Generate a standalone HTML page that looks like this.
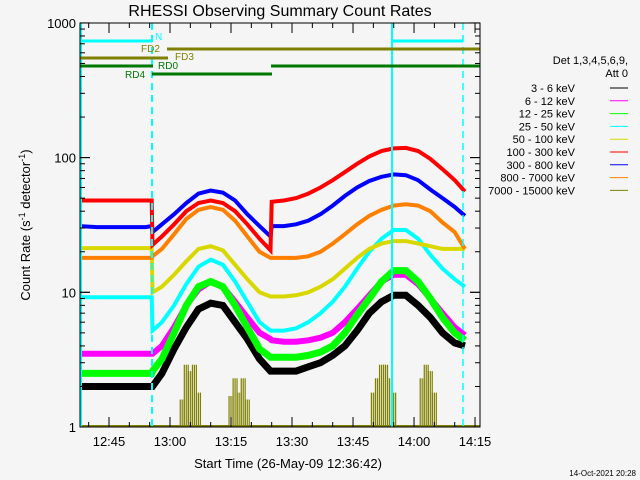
<!DOCTYPE html>
<html><head><meta charset="utf-8"><style>
body{margin:0;background:#f5f5f5;}
svg{display:block;font-family:"Liberation Sans",sans-serif;}
</style></head><body>
<svg id="c" width="640" height="480" viewBox="0 0 640 480">
<rect width="640" height="480" fill="#f5f5f5"/>
<text x="280" y="16" text-anchor="middle" font-size="16" fill="#000">RHESSI Observing Summary Count Rates</text>
<g id="plot"></g>
<text x="30" y="225" transform="rotate(-90 30 225)" text-anchor="middle" font-size="13">Count Rate (s<tspan dy="-5" font-size="9">-1</tspan><tspan dy="5"> detector</tspan><tspan dy="-5" font-size="9">-1</tspan><tspan dy="5">)</tspan></text>
<text x="288" y="468" text-anchor="middle" font-size="13">Start Time (26-May-09 12:36:42)</text>
<text x="636" y="476" text-anchor="end" font-size="8">14-Oct-2021 20:28</text>
<g id="legend"></g>
</svg>
<script>
const times=[-7.5,-3,1,5,9,10.5,10.7,13,16,19,22,25,28,31,34,37,39.7,40,43,46,49,52,55,58,61,64,67,70,73,76,79,82,85,87.5];
const red=[48,48,48,48,48,48,22.5,26,32,40,46,48,46,40,32,25,20.5,47,48,50,54,60,68,78,90,102,112,117,118,112,98,82,68,56];
const blue=[31,30.5,30.5,30.5,30.5,31,28,32,38,46,54,57,55,48,38,31,26,31,31,32,34,38,44,52,60,67,72,75,74,68,58,50,43,37];
const orange=[18,18,18,18,18,18,18.5,21,27,35,41,43,41,34,26,20,18,18,18,18,18.5,20,23,27,32,37,41,44,45,44,40,33,28,21];
const yellow=[21.3,21.3,21.3,21.3,21.3,21.3,10,11,13.5,17,21,22,20.5,16,12.5,10,9.3,9.3,9.3,9.5,10,11,12.5,15,18,21,23,24,24,23,22,21,21,21];
const cyan=[9.2,9.2,9.2,9.2,9.2,9.2,5.2,6,8,11.5,15.5,17.5,16,12,8.5,6,5.2,5.2,5.2,5.4,6,7,8.5,11,15,20,25,29,29,25,19,15,12.5,11];
const magenta=[3.5,3.5,3.5,3.5,3.5,3.5,3.5,4,5.5,8,10.5,12,11,8.5,6.5,5,4.5,4.4,4.3,4.3,4.4,4.6,5,6,7.5,9.5,12,13.5,13.5,11.5,9,7,5.5,4.8];
const green=[2.5,2.5,2.5,2.5,2.5,2.5,2.6,3.2,5,8,11,12,11,8,5.5,3.8,3.3,3.3,3.3,3.3,3.4,3.6,4,5,6.8,9,12,14.5,14.5,12,9,6.5,5,4.4];
const black=[2,2,2,2,2,2,2,2.5,3.8,5.5,7.5,8.3,8,6,4.5,3.2,2.6,2.6,2.6,2.6,2.8,3,3.4,4,5.2,7,8.5,9.5,9.5,8,6.5,5,4.2,4];
const oliveT=[18,19,20,21,22,30,31,32,33,34,65,66,67,68,69,70,77,78,79,80];
const oliveV=[1.6,2.9,2.6,2.9,1.8,1.7,2.3,1.8,2.3,1.6,1.8,2.3,2.9,2.9,2.3,1.8,2.3,2.9,2.6,1.8];
const xTickLabels=["12:45","13:00","13:15","13:30","13:45","14:00","14:15"];
const yTickValues=[1,10,100,1000];
const legendLabels=["3 - 6 keV","6 - 12 keV","12 - 25 keV","25 - 50 keV","50 - 100 keV","100 - 300 keV","300 - 800 keV","800 - 7000 keV","7000 - 15000 keV"];

const NS="http://www.w3.org/2000/svg";
const L=80,R=480,T=23,B=427;
const xs=m=>109+m*4.067;
const ys=v=>B-Math.log10(v)*134.7;
const plot=document.getElementById('plot');
function mk(tag,at,parent){const e=document.createElementNS(NS,tag);for(const k in at)e.setAttribute(k,at[k]);(parent||plot).appendChild(e);return e;}

const defs=mk('defs',{});const cp=mk('clipPath',{id:'cp'},defs);mk('rect',{x:L,y:T,width:R-L,height:B-T},cp);
const g=mk('g',{'clip-path':'url(#cp)'});

oliveT.forEach((t,i)=>{
 [-1.5,0,1.5].forEach(dx=>{
 const r=mk('rect',{x:xs(t)+dx*1.3-0.6,y:ys(oliveV[i]),width:1.2,height:B-ys(oliveV[i]),fill:'#808000'},g);
 
 });
});
mk('line',{x1:L,x2:R,y1:B-1,y2:B-1,stroke:'#808000','stroke-width':2},g);

const series=[[black,'#000',7],[magenta,'#ff00ff',6],[green,'#00ff00',7],[cyan,'#00ffff',4],[yellow,'#d8d800',4],[orange,'#ff8000',4],[blue,'#0000ff',4],[red,'#ff0000',4]];
const nameMap={'#000':'series-3-6kev','#ff00ff':'series-6-12kev','#00ff00':'series-12-25kev','#00ffff':'series-25-50kev','#d8d800':'series-50-100kev','#ff0000':'series-100-300kev','#0000ff':'series-300-800kev','#ff8000':'series-800-7000kev'};
series.forEach(([arr,col,w])=>{
 const pts=arr.map((v,i)=>xs(times[i]).toFixed(1)+','+ys(v).toFixed(1)).join(' ');
 const p=mk('polyline',{points:pts,fill:'none',stroke:col,'stroke-width':w},g);
 
 
});

mk('line',{x1:81,x2:81,y1:T,y2:B,stroke:'#00ffff','stroke-width':2},g);
mk('line',{x1:392,x2:392,y1:T,y2:B,stroke:'#00ffff','stroke-width':2},g);
mk('line',{x1:152,x2:152,y1:T,y2:B,stroke:'#00ffff','stroke-width':2,'stroke-dasharray':'7,5'},g);
mk('line',{x1:463,x2:463,y1:T,y2:B,stroke:'#00ffff','stroke-width':1.5,'stroke-dasharray':'7,5'},g);

const bars=[[80,152,41,'#00ffff'],[392,463,41,'#00ffff'],[167,480,49,'#808000'],[80,168,58,'#808000'],[80,153,66,'#007800'],[271,480,66,'#007800'],[152,272,74,'#007800']];
bars.forEach(b=>{const l=mk('line',{x1:b[0],x2:b[1],y1:b[2],y2:b[2],stroke:b[3],'stroke-width':3},g);

});
const labs=[['N',155,40,'#00ffff'],['FD2',141,52,'#808000'],['FD3',175,60,'#808000'],['RD0',158,69,'#007800'],['RD4',125,78,'#007800']];
labs.forEach(a=>{const t=mk('text',{x:a[1],y:a[2],fill:a[3],'font-size':10},g);t.textContent=a[0];

});

mk('rect',{x:L,y:T,width:R-L,height:B-T,fill:'none',stroke:'#000','stroke-width':1});
for(let m=-5;m<=90;m+=5){const x=xs(m);if(x<L||x>R)continue;const maj=(m%15===0);const len=maj?10:5;
 mk('line',{x1:x,x2:x,y1:B,y2:B-len,stroke:'#000'});mk('line',{x1:x,x2:x,y1:T,y2:T+len,stroke:'#000'});}
xTickLabels.forEach((s,i)=>{const t=mk('text',{x:xs(i*15),y:446,'text-anchor':'middle','font-size':13});t.textContent=s;

});
for(let d=0;d<3;d++)for(let k=1;k<=10;k++){const v=k*Math.pow(10,d);const y=ys(v);const len=(k===1||k===10)?10:5;
 mk('line',{x1:L,x2:L+len,y1:y,y2:y,stroke:'#000'});mk('line',{x1:R,x2:R-len,y1:y,y2:y,stroke:'#000'});}
yTickValues.forEach(v=>{const t=mk('text',{x:76,y:ys(v)+5,'text-anchor':'end','font-size':13});t.textContent=String(v);

});

const lg=document.getElementById('legend');
const legCols=['#000','#ff00ff','#00ff00','#00ffff','#d8d800','#ff0000','#0000ff','#ff8000','#808000'];
let t1=mk('text',{x:628,y:64,'text-anchor':'end','font-size':11},lg);t1.textContent='Det 1,3,4,5,6,9,';
let t2=mk('text',{x:628,y:77,'text-anchor':'end','font-size':11},lg);t2.textContent='Att 0';
legendLabels.forEach((s,i)=>{const y=88+i*12.8;
 const t=mk('text',{x:575,y:y+4,'text-anchor':'end','font-size':11},lg);t.textContent=s;
 
 
 mk('line',{x1:610,x2:628,y1:y,y2:y,stroke:legCols[i],'stroke-width':1},lg);});
</script>
</body></html>
